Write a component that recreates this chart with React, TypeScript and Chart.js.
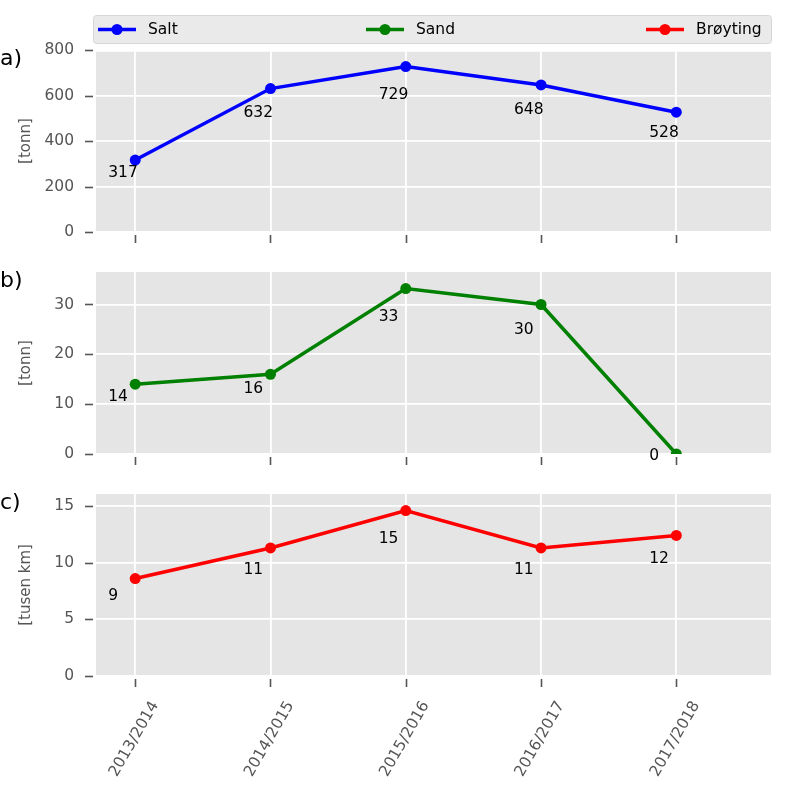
import React, { useEffect, useRef } from "react";
import { Chart, registerables } from "chart.js";

Chart.register(...registerables);

// ---- data ----
const seasons = ["2013/2014", "2014/2015", "2015/2016", "2016/2017", "2017/2018"];
const saltValues = [317, 632, 729, 648, 528];
const sandValues = [14, 16, 33.2, 30, 0];
const broytingValues = [8.6, 11.3, 14.6, 11.3, 12.4];
const saltTicks = [0, 200, 400, 600, 800];
const sandTicks = [0, 10, 20, 30];
const broytingTicks = [0, 5, 10, 15];
const seriesNames = ["Salt", "Sand", "Brøyting"];
const panelLetters = ["a)", "b)", "c)"];
const yTitles = ["[tonn]", "[tonn]", "[tusen km]"];
const seriesColors = ["#0000FF", "#008000", "#FF0000"];

const FONT = "'DejaVu Sans', sans-serif";
const GRAY = "#555555";

type PanelCfg = {
  idx: number;
  values: number[];
  ticks: number[];
  top: number;
  height: number;
  padTop: number;
  xHeight: number;
  showX: boolean;
};

const panels: PanelCfg[] = [
  { idx: 0, values: saltValues, ticks: saltTicks, top: 0, height: 260, padTop: 50, xHeight: 28, showX: false },
  { idx: 1, values: sandValues, ticks: sandTicks, top: 260, height: 220, padTop: 12, xHeight: 26, showX: false },
  { idx: 2, values: broytingValues, ticks: broytingTicks, top: 480, height: 320, padTop: 14, xHeight: 124, showX: true },
];

function Panel({ cfg }: { cfg: PanelCfg }) {
  const ref = useRef<HTMLCanvasElement | null>(null);
  useEffect(() => {
    if (!ref.current) return;
    const color = seriesColors[cfg.idx];
    const yMax = Math.max(...cfg.values) * 1.1;

    const decor = {
      id: "decor" + cfg.idx,
      beforeDraw(chart: any) {
        const { ctx, chartArea: a } = chart;
        ctx.save();
        ctx.fillStyle = "#E5E5E5";
        ctx.fillRect(a.left, a.top, a.right - a.left, a.bottom - a.top);
        ctx.restore();
      },
      afterDatasetsDraw(chart: any) {
        const { ctx, scales } = chart;
        const xs = scales.x;
        const ys = scales.y;
        ctx.save();
        ctx.font = `15.5px ${FONT}`;
        ctx.fillStyle = "#000000";
        ctx.textAlign = "left";
        ctx.textBaseline = "middle";
        cfg.values.forEach((v, i) => {
          const px = xs.getPixelForValue(i - 0.2);
          const py = ys.getPixelForValue(v * 0.84) + 1.5;
          ctx.fillText(String(Math.round(v)), px, py);
        });
        ctx.restore();
      },
      afterDraw(chart: any) {
        const { ctx, chartArea: a, scales } = chart;
        ctx.save();
        // tick marks
        ctx.strokeStyle = GRAY;
        ctx.lineWidth = 1.6;
        scales.x.ticks.forEach((t: any) => {
          const px = Math.round(scales.x.getPixelForValue(t.value)) + 0.5;
          ctx.beginPath();
          ctx.moveTo(px, a.bottom + 3);
          ctx.lineTo(px, a.bottom + 11);
          ctx.stroke();
        });
        scales.y.ticks.forEach((t: any) => {
          const py = Math.round(scales.y.getPixelForValue(t.value)) + 0.5;
          ctx.beginPath();
          ctx.moveTo(a.left - 11, py);
          ctx.lineTo(a.left - 3, py);
          ctx.stroke();
        });
        // panel letter
        ctx.fillStyle = "#000000";
        ctx.font = `22px ${FONT}`;
        ctx.textAlign = "left";
        ctx.textBaseline = "middle";
        ctx.fillText(panelLetters[cfg.idx], 0, a.top + 9);
        // legend
        if (cfg.idx === 0) {
          const bx = a.left - 2.5;
          const by = 15.5;
          const bw = a.right - a.left + 3;
          const bh = 28;
          ctx.fillStyle = "#EAEAEA";
          ctx.strokeStyle = "#D6D6D6";
          ctx.lineWidth = 1;
          ctx.beginPath();
          (ctx as any).roundRect(bx, by, bw, bh, 3);
          ctx.fill();
          ctx.stroke();
          const starts = [98, 366, 646];
          const ly = 29.5;
          seriesNames.forEach((name, i) => {
            const x0 = starts[i];
            ctx.strokeStyle = seriesColors[i];
            ctx.fillStyle = seriesColors[i];
            ctx.lineWidth = 3.5;
            ctx.beginPath();
            ctx.moveTo(x0, ly);
            ctx.lineTo(x0 + 38, ly);
            ctx.stroke();
            ctx.beginPath();
            ctx.arc(x0 + 19, ly, 5.5, 0, Math.PI * 2);
            ctx.fill();
            ctx.fillStyle = "#000000";
            ctx.font = `15.5px ${FONT}`;
            ctx.textAlign = "left";
            ctx.textBaseline = "middle";
            ctx.fillText(name, x0 + 50, ly);
          });
        }
        ctx.restore();
      },
    };

    const chart = new Chart(ref.current, {
      type: "line",
      data: {
        datasets: [
          {
            label: seriesNames[cfg.idx],
            data: cfg.values.map((v, i) => ({ x: i, y: v })),
            borderColor: color,
            backgroundColor: color,
            borderWidth: 3.5,
            pointRadius: 5.5,
            pointBorderWidth: 0,
            pointHoverRadius: 5.5,
            tension: 0,
            clip: 0,
          } as any,
        ],
      },
      options: {
        animation: false,
        responsive: false,
        events: [],
        layout: { padding: { top: cfg.padTop, right: 29, left: 0, bottom: 0 } },
        plugins: { legend: { display: false }, tooltip: { enabled: false } },
        scales: {
          x: {
            type: "linear",
            min: -0.29,
            max: 4.7,
            afterBuildTicks: (s: any) => {
              s.ticks = seasons.map((_, i) => ({ value: i }));
            },
            afterFit: (s: any) => {
              s.height = cfg.xHeight;
              s.paddingLeft = 0;
              s.paddingRight = 0;
              s.paddingTop = 0;
              s.paddingBottom = 0;
            },
            grid: { color: "#FFFFFF", lineWidth: 1.8, drawTicks: false },
            border: { display: false },
            ticks: {
              display: cfg.showX,
              autoSkip: false,
              minRotation: 60,
              maxRotation: 60,
              labelOffset: 20,
              padding: 22,
              color: GRAY,
              font: { family: FONT, size: 15.5 },
              callback: (v: any) => seasons[Math.round(Number(v))] ?? "",
            },
          },
          y: {
            type: "linear",
            min: 0,
            max: yMax,
            afterBuildTicks: (s: any) => {
              s.ticks = cfg.ticks.map((v) => ({ value: v }));
            },
            afterFit: (s: any) => {
              s.width = 96;
              s.paddingLeft = 0;
              s.paddingRight = 0;
              s.paddingTop = 0;
              s.paddingBottom = 0;
            },
            grid: { color: "#FFFFFF", lineWidth: 1.8, drawTicks: false },
            border: { display: false },
            ticks: {
              padding: 22,
              color: GRAY,
              font: { family: FONT, size: 15.5 },
              callback: (v: any) => String(v),
            },
            title: {
              display: true,
              text: yTitles[cfg.idx],
              color: GRAY,
              font: { family: FONT, size: 15 },
              padding: { top: 17, bottom: 0 },
            },
          },
        },
      },
      plugins: [decor],
    });
    return () => chart.destroy();
  }, [cfg]);

  return (
    <canvas
      ref={ref}
      width={800}
      height={cfg.height}
      style={{ position: "absolute", left: 0, top: cfg.top, width: 800, height: cfg.height }}
    />
  );
}

export default function App() {
  return (
    <div style={{ position: "absolute", left: 0, top: 0, width: 800, height: 800, background: "#FFFFFF" }}>
      {panels.map((p) => (
        <Panel key={p.idx} cfg={p} />
      ))}
    </div>
  );
}
